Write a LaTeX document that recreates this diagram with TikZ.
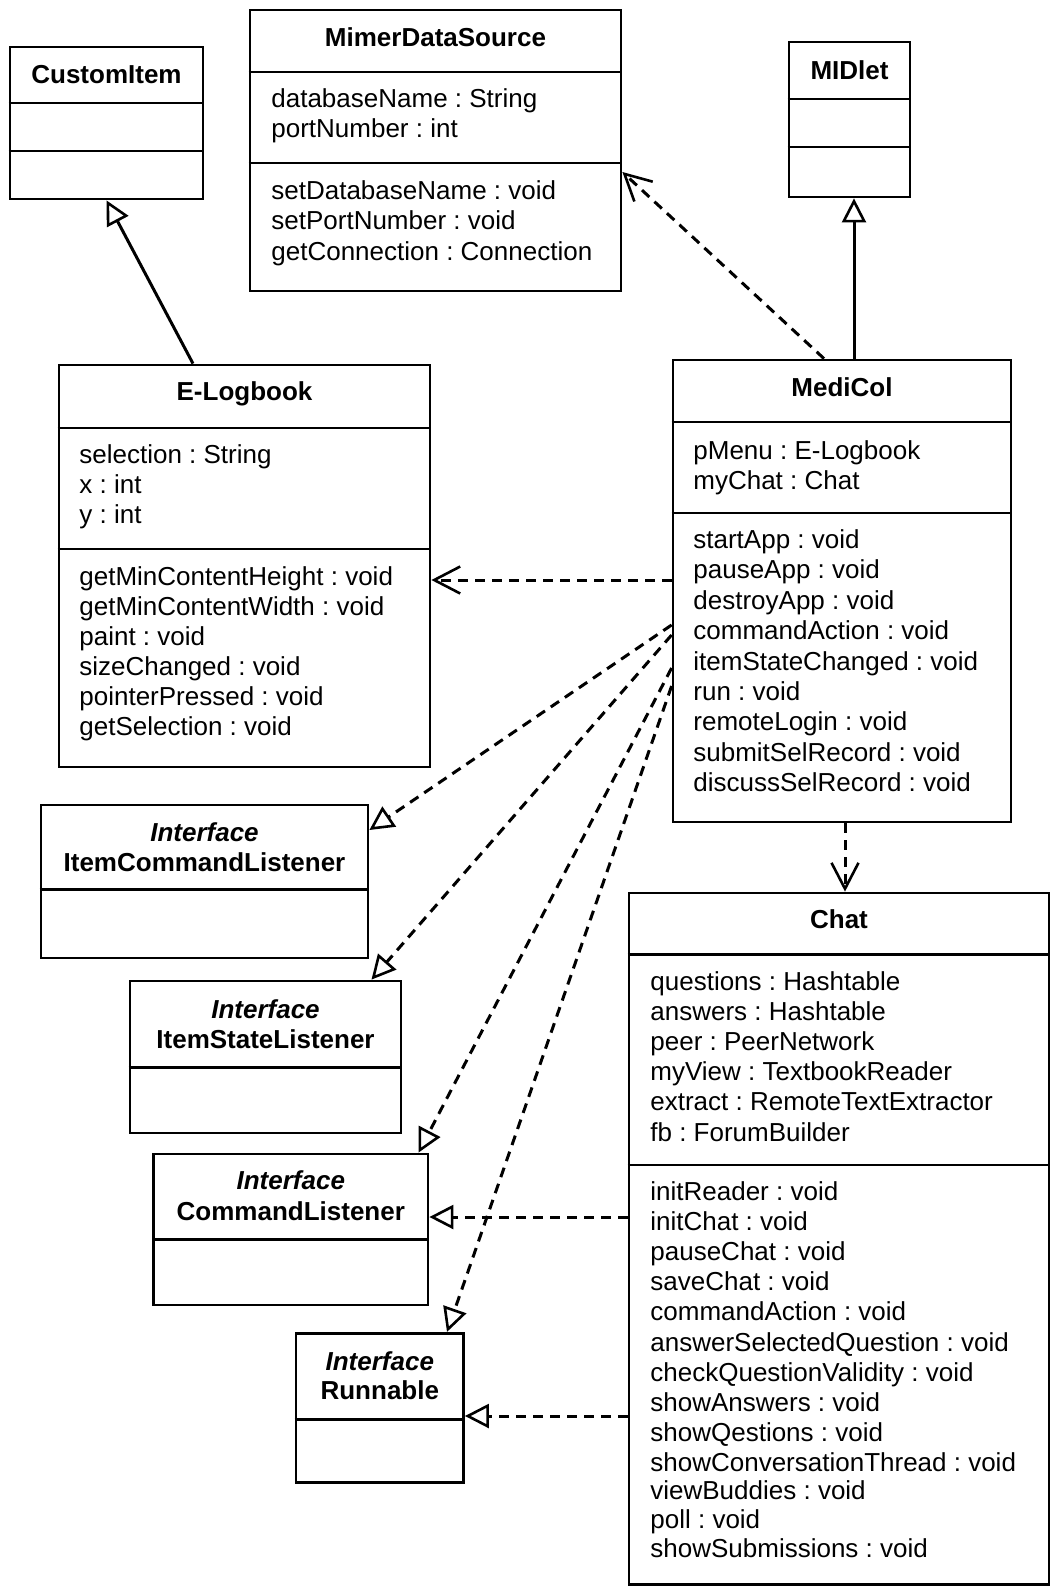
\documentclass[tikz,border=0pt]{standalone}
\usepackage{fontspec}
\setmainfont{Liberation Sans}
\usetikzlibrary{arrows.meta,fit}
\frenchspacing
\begin{document}
\begin{tikzpicture}[x=0.5pt,y=-0.5pt,
  box/.style={draw, line width=1.4pt, inner sep=0pt},
  rule/.style={line width=1.4pt},
  txt/.style={anchor=base west, inner sep=0pt, font=\fontsize{13pt}{15pt}\selectfont},
  ttl/.style={anchor=base, inner sep=0pt, font=\fontsize{13pt}{15pt}\selectfont\bfseries},
  gen/.style={line width=1.5pt, -{Triangle[open, length=12pt, width=12pt, line width=1.3pt]}},
  real/.style={gen, dash pattern=on 5pt off 3.5pt},
  dep/.style={line width=1.5pt, dash pattern=on 5pt off 3.5pt,
              -{Straight Barb[length=13pt, width=13.5pt, line width=1.3pt]}},
]
\path[fill=white] (0,0) rectangle (1051,1586);

% ---- CustomItem
\node[box, fit={(10,47)(203,199)}] (cust) {};
\draw[rule] (cust.west |- 0,103) -- (cust.east |- 0,103);
\draw[rule] (cust.west |- 0,151) -- (cust.east |- 0,151);
\node[ttl] (custT) at (106.5,83) {CustomItem};

% ---- MimerDataSource
\node[box, fit={(250,10)(621,291)}] (mds) {};
\draw[rule] (mds.west |- 0,72) -- (mds.east |- 0,72);
\draw[rule] (mds.west |- 0,163) -- (mds.east |- 0,163);
\node[ttl] (mdsT) at (435.5,46.5) {MimerDataSource};
\foreach \s [count=\i from 0] in {databaseName : String, portNumber : int}
  \node[txt] (mdsA\i) at (271,107.5+30*\i) {\s};
\foreach \s [count=\i from 0] in {setDatabaseName : void, setPortNumber : void, getConnection : Connection}
  \node[txt] (mdsM\i) at (271,199+30.5*\i) {\s};

% ---- MIDlet
\node[box, fit={(789,42)(910,197)}] (midlet) {};
\draw[rule] (midlet.west |- 0,99) -- (midlet.east |- 0,99);
\draw[rule] (midlet.west |- 0,147) -- (midlet.east |- 0,147);
\node[ttl] (midletT) at (849.5,79) {MIDlet};

% ---- E-Logbook
\node[box, fit={(59,365)(430,767)}] (elog) {};
\draw[rule] (elog.west |- 0,428) -- (elog.east |- 0,428);
\draw[rule] (elog.west |- 0,549) -- (elog.east |- 0,549);
\node[ttl] (elogT) at (244.5,400) {E-Logbook};
\foreach \s [count=\i from 0] in {selection : String, x : int, y : int}
  \node[txt] (elogA\i) at (79,463.5+30.2*\i) {\s};
\foreach \s [count=\i from 0] in {getMinContentHeight : void, getMinContentWidth : void,
    paint : void, sizeChanged : void, pointerPressed : void, getSelection : void}
  \node[txt] (elogM\i) at (79,585+30*\i) {\s};

% ---- MediCol
\node[box, fit={(673,360)(1011,822)}] (mcol) {};
\draw[rule] (mcol.west |- 0,422) -- (mcol.east |- 0,422);
\draw[rule] (mcol.west |- 0,513) -- (mcol.east |- 0,513);
\node[ttl] (mcolT) at (842,396.5) {MediCol};
\foreach \s [count=\i from 0] in {pMenu : E-Logbook, myChat : Chat}
  \node[txt] (mcolA\i) at (693,459+30.3*\i) {\s};
\foreach \s [count=\i from 0] in {startApp : void, pauseApp : void, destroyApp : void,
    commandAction : void, itemStateChanged : void, run : void, remoteLogin : void,
    submitSelRecord : void, discussSelRecord : void}
  \node[txt] (mcolM\i) at (693,548.5+30.4*\i) {\s};

% ---- Chat
\node[box, fit={(629,893)(1049,1584.5)}] (chat) {};
\draw[rule] (chat.west |- 0,954.5) -- (chat.east |- 0,954.5);
\draw[rule] (chat.west |- 0,1165) -- (chat.east |- 0,1165);
\node[ttl] (chatT) at (839,928.5) {Chat};
\foreach \s [count=\i from 0] in {questions : Hashtable, answers : Hashtable, peer : PeerNetwork,
    myView : TextbookReader, extract : RemoteTextExtractor, fb : ForumBuilder}
  \node[txt] (chatA\i) at (650,990.5+30.1*\i) {\s};
\foreach \s [count=\i from 0] in {initReader : void, initChat : void, pauseChat : void,
    saveChat : void, commandAction : void, answerSelectedQuestion : void,
    checkQuestionValidity : void, showAnswers : void, showQestions : void,
    showConversationThread : void}
  \node[txt] (chatM\i) at (650,1200+30.2*\i) {\s};
\node[txt] (chatM10) at (650,1499.2) {viewBuddies : void};
\node[txt] (chatM11) at (650,1528.5) {poll : void};
\node[txt] (chatM12) at (650,1557.8) {showSubmissions : void};

% ---- Interfaces
\node[box, fit={(41,805)(368,958)}] (icl) {};
\draw[rule] (icl.west |- 0,889.3) -- (icl.east |- 0,889.3);
\node[ttl] (iclI) at (204.5,841.7) {\itshape Interface};
\node[ttl] (iclN) at (204.5,871.7) {ItemCommandListener};

\node[box, fit={(130,981)(401,1133)}] (isl) {};
\draw[rule] (isl.west |- 0,1067.3) -- (isl.east |- 0,1067.3);
\node[ttl] (islI) at (265.5,1018.3) {\itshape Interface};
\node[ttl] (islN) at (265.5,1048) {ItemStateListener};

\node[box, fit={(153.5,1154)(428,1305)}] (cl) {};
\draw[rule] (cl.west |- 0,1239.3) -- (cl.east |- 0,1239.3);
\node[ttl] (clI) at (290.8,1189.5) {\itshape Interface};
\node[ttl] (clN) at (290.8,1220) {CommandListener};

\node[box, fit={(296,1333.3)(463.5,1482.3)}] (run) {};
\draw[rule] (run.west |- 0,1419.3) -- (run.east |- 0,1419.3);
\node[ttl] (runI) at (379.8,1370) {\itshape Interface};
\node[ttl] (runN) at (379.8,1399.5) {Runnable};

% ---- Connectors
\draw[gen] (elog.north -| 193,0) -- (cust.south);
\draw[gen] (mcol.north -| 854,0) -- (midlet.south -| 854,0);
\draw[dep] (mcol.north -| 824,0) -- (mds.east |- 0,172);
\draw[dep] (mcol.west |- 0,580) -- (elog.east |- 0,580);
\draw[real] (mcol.west |- 0,625) -- (icl.east |- 0,830);
\draw[real] (mcol.west |- 0,635) -- (isl.north -| 371.5,0);
\draw[real] (mcol.west |- 0,668) -- (cl.north -| 418.5,0);
\draw[real] (mcol.west |- 0,686) -- (run.north -| 447,0);
\draw[dep] (mcol.south -| 845,0) -- (chat.north -| 845,0);
\draw[real] (chat.west |- 0,1217) -- (cl.east |- 0,1217);
\draw[real] (chat.west |- 0,1416) -- (run.east |- 0,1416);
\end{tikzpicture}
\end{document}
